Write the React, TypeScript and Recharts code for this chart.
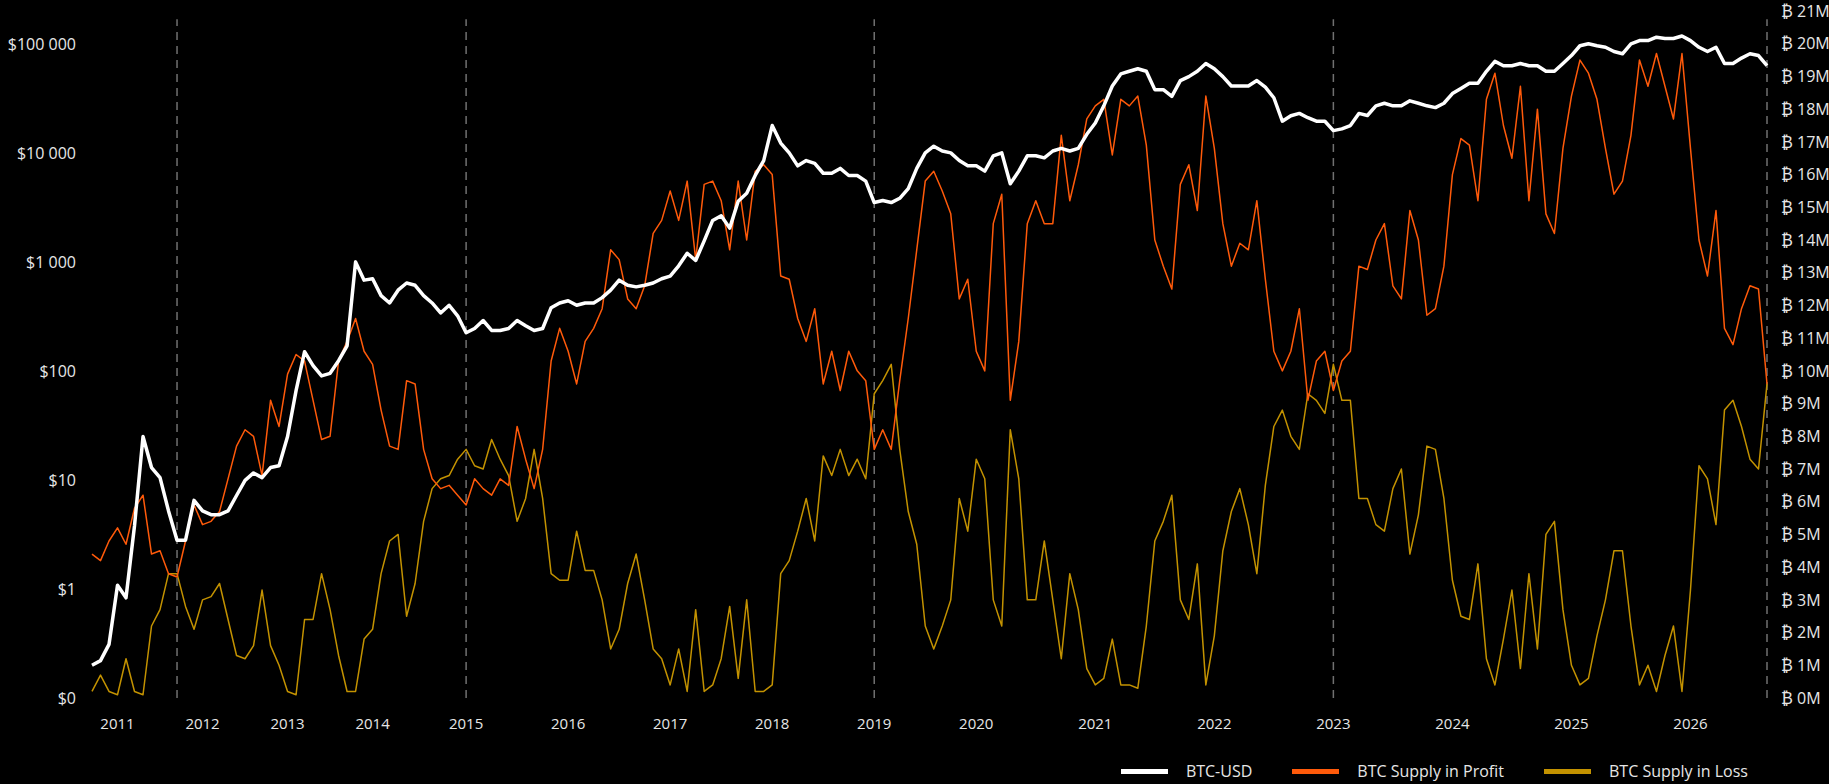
import { LineChart, Line, XAxis, YAxis, ReferenceLine } from 'recharts';

// samples per calendar year (the source axis is denser in later cycles)
const years = [2010, 2011, 2012, 2013, 2014, 2015, 2016, 2017, 2018, 2019, 2020, 2021, 2022, 2023, 2024, 2025, 2026];
const samplesPerYear = [3, 10, 10, 10, 11, 12, 12, 12, 12, 12, 14, 14, 14, 14, 14, 14, 10];

// BTC-USD price, $
const btcUsd = [
  0.2, 0.22, 0.31,
  1.08, 0.83, 3.8, 25, 13, 10.5, 5.2, 2.8, 2.8, 6.5,
  5.2, 4.8, 4.8, 5.2, 7.2, 9.9, 11.6, 10.5, 13, 13.5,
  25, 66, 150, 112, 90, 95, 124, 170, 1000, 680,
  700, 490, 420, 550, 640, 610, 490, 420, 340, 400, 320,
  224, 245, 290, 235, 235, 245, 290, 260, 235, 245, 380, 420,
  440, 400, 420, 420, 470, 550, 680, 610, 590, 610, 640, 700,
  740, 920, 1200, 1030, 1560, 2400, 2650, 2040, 3600, 4260, 6200, 8500,
  17800, 12300, 10000, 7600, 8500, 8000, 6500, 6500, 7200, 6200, 6200, 5500,
  3500, 3650, 3500, 3830, 4700, 7200, 10000, 11500, 10400, 10000, 8500, 7600,
  7600, 6800, 9400, 10000, 5200, 6800, 9400, 9400, 9000, 10400, 11000, 10400, 11000, 14800,
  18800, 27000, 41000, 53000, 56000, 59000, 56000, 38000, 38000, 33000, 46000, 50000, 56000, 66000,
  59000, 50000, 41000, 41000, 41000, 46000, 40000, 32000, 19500, 21900, 23000, 21000, 19500, 19500,
  16000, 16600, 17800, 23000, 22000, 27000, 28500, 27000, 27000, 30000, 28500, 27000, 26000, 28500,
  35000, 39000, 43500, 43500, 56000, 69000, 63000, 63000, 66000, 63000, 63000, 56000, 56000, 66000,
  78000, 96000, 100000, 96000, 93000, 85000, 81000, 100000, 107000, 107000, 115000, 112000, 112000, 118000,
  107000, 93000, 85000, 93000, 66000, 66000, 74000, 81000, 78000, 63000,
];

// BTC supply in profit, million BTC
const supplyInProfit = [
  4.4, 4.2, 4.8,
  5.2, 4.7, 5.8, 6.2, 4.4, 4.5, 3.8, 3.7, 4.8, 5.9,
  5.3, 5.4, 5.7, 6.7, 7.7, 8.2, 8.0, 6.8, 9.1, 8.3,
  9.9, 10.5, 10.3, 9.1, 7.9, 8.0, 10.3, 10.9, 11.6, 10.6,
  10.2, 8.8, 7.7, 7.6, 9.7, 9.6, 7.6, 6.7, 6.4, 6.5, 6.2,
  5.9, 6.7, 6.4, 6.2, 6.7, 6.5, 8.3, 7.3, 6.4, 7.6, 10.3, 11.3,
  10.6, 9.6, 10.9, 11.3, 11.9, 13.7, 13.4, 12.2, 11.9, 12.6, 14.2, 14.6,
  15.5, 14.6, 15.8, 13.4, 15.7, 15.8, 15.2, 13.7, 15.8, 14.0, 16.1, 16.3,
  16.0, 12.9, 12.8, 11.6, 10.9, 11.9, 9.6, 10.6, 9.4, 10.6, 10.0, 9.7,
  7.6, 8.2, 7.6, 9.7, 11.6, 13.7, 15.8, 16.1, 15.5, 14.8, 12.2, 12.8,
  10.6, 10.0, 14.5, 15.4, 9.1, 10.9, 14.5, 15.2, 14.5, 14.5, 17.2, 15.2, 16.3, 17.7,
  18.1, 18.3, 16.6, 18.3, 18.1, 18.4, 16.9, 14.0, 13.2, 12.5, 15.7, 16.3, 14.9, 18.4,
  16.8, 14.5, 13.2, 13.9, 13.7, 15.2, 12.8, 10.6, 10.0, 10.6, 11.9, 9.1, 10.3, 10.6,
  9.4, 10.3, 10.6, 13.2, 13.1, 14.0, 14.5, 12.6, 12.2, 14.9, 14.0, 11.7, 11.9, 13.2,
  16.0, 17.1, 16.9, 15.2, 18.3, 19.1, 17.5, 16.5, 18.7, 15.2, 18.0, 14.8, 14.2, 16.8,
  18.4, 19.5, 19.1, 18.3, 16.8, 15.4, 15.8, 17.2, 19.5, 18.7, 19.7, 18.7, 17.7, 19.7,
  16.8, 14.0, 12.9, 14.9, 11.3, 10.8, 11.9, 12.6, 12.5, 9.6,
];

// BTC supply in loss, million BTC
const supplyInLoss = [
  0.2, 0.7, 0.2,
  0.1, 1.2, 0.2, 0.1, 2.2, 2.7, 3.8, 3.8, 2.8, 2.1,
  3.0, 3.1, 3.5, 2.4, 1.3, 1.2, 1.6, 3.3, 1.6, 1.0,
  0.2, 0.1, 2.4, 2.4, 3.8, 2.7, 1.3, 0.2, 0.2, 1.8,
  2.1, 3.8, 4.8, 5.0, 2.5, 3.5, 5.4, 6.4, 6.7, 6.8, 7.3,
  7.6, 7.1, 7.0, 7.9, 7.3, 6.8, 5.4, 6.1, 7.6, 6.1, 3.8, 3.6,
  3.6, 5.1, 3.9, 3.9, 3.0, 1.5, 2.1, 3.5, 4.4, 3.0, 1.5, 1.2,
  0.4, 1.5, 0.2, 2.7, 0.2, 0.4, 1.2, 2.8, 0.6, 3.0, 0.2, 0.2,
  0.4, 3.8, 4.2, 5.1, 6.1, 4.8, 7.4, 6.8, 7.6, 6.8, 7.3, 6.7,
  9.3, 9.7, 10.2, 7.6, 5.7, 4.7, 2.2, 1.5, 2.2, 3.0, 6.1, 5.1,
  7.3, 6.7, 3.0, 2.2, 8.2, 6.7, 3.0, 3.0, 4.8, 3.0, 1.2, 3.8, 2.7, 0.9,
  0.4, 0.6, 1.8, 0.4, 0.4, 0.3, 2.2, 4.8, 5.4, 6.2, 3.0, 2.4, 4.1, 0.4,
  1.9, 4.5, 5.7, 6.4, 5.3, 3.8, 6.5, 8.3, 8.8, 8.0, 7.6, 9.3, 9.1, 8.7,
  10.2, 9.1, 9.1, 6.1, 6.1, 5.3, 5.1, 6.4, 7.0, 4.4, 5.6, 7.7, 7.6, 6.1,
  3.6, 2.5, 2.4, 4.1, 1.2, 0.4, 1.8, 3.3, 0.9, 3.8, 1.5, 5.0, 5.4, 2.7,
  1.0, 0.4, 0.6, 1.9, 3.0, 4.5, 4.5, 2.2, 0.4, 1.0, 0.2, 1.3, 2.2, 0.2,
  3.3, 7.1, 6.7, 5.3, 8.8, 9.1, 8.3, 7.3, 7.0, 9.6,
];

// cycle lows marked with dashed lines
const cycleMarks = ['2011-7', '2015-0', '2019-0', '2023-0', '2026-9'];
const usdTicks = [0.1, 1, 10, 100, 1000, 10000, 100000];
const supplyTicks = [0, 1, 2, 3, 4, 5, 6, 7, 8, 9, 10, 11, 12, 13, 14, 15, 16, 17, 18, 19, 20, 21];

const series = [
  { key: 'loss', name: 'BTC Supply in Loss', color: '#c39200', width: 1.5, axis: 'supply' },
  { key: 'profit', name: 'BTC Supply in Profit', color: '#ff5a0a', width: 1.5, axis: 'supply' },
  { key: 'price', name: 'BTC-USD', color: '#ffffff', width: 3.5, axis: 'usd' },
];
const legendOrder = ['price', 'profit', 'loss'];

const categories: string[] = [];
years.forEach((y, yi) => {
  for (let k = 0; k < samplesPerYear[yi]; k++) categories.push(`${y}-${k}`);
});

const data = categories.map((c, i) => ({
  date: c,
  price: btcUsd[i],
  profit: supplyInProfit[i],
  loss: supplyInLoss[i],
}));

const FONT = '"Open Sans", Lato, sans-serif';
const yTickStyle = { fill: '#e6e6e6', fontSize: 16, fontFamily: FONT };
const xTickStyle = { fill: '#e6e6e6', fontSize: 15, fontFamily: FONT };

const formatYear = (c: string) => {
  const [y, k] = c.split('-');
  return k === '0' && y !== '2010' ? y : '';
};

const formatUsd = (v: number) => (v < 1 ? '$0' : '$' + v.toLocaleString('en-US').replace(/,/g, ' '));

export default function App() {
  return (
    <div style={{ position: 'absolute', left: 0, top: 0, width: 1829, height: 784, background: '#000', fontFamily: FONT }}>
      <LineChart width={1829} height={784} data={data} margin={{ top: 11, right: 0, bottom: 46, left: 0 }}>
        <XAxis
          dataKey="date"
          interval={0}
          tickFormatter={formatYear}
          tick={xTickStyle}
          tickLine={false}
          axisLine={false}
          tickSize={6}
          tickMargin={14}
          height={40}
        />
        <YAxis
          yAxisId="usd"
          orientation="left"
          scale="log"
          domain={[0.1, 200000]}
          ticks={usdTicks}
          allowDataOverflow
          tickFormatter={formatUsd}
          tick={yTickStyle}
          tickLine={false}
          axisLine={false}
          tickSize={6}
          tickMargin={10}
          width={92}
        />
        <YAxis
          yAxisId="supply"
          orientation="right"
          domain={[0, 21]}
          ticks={supplyTicks}
          tickFormatter={(v: number) => `₿ ${v}M`}
          tick={{ ...yTickStyle, textAnchor: 'start' }}
          tickLine={false}
          axisLine={false}
          tickSize={6}
          tickMargin={8}
          width={62}
        />
        {cycleMarks.map((m) => (
          <ReferenceLine
            key={m}
            yAxisId="supply"
            segment={[{ x: m, y: 0 }, { x: m, y: 20.75 }]}
            stroke="#707070"
            strokeWidth={1.5}
            strokeDasharray="8 6"
          />
        ))}
        {series.map((s) => (
          <Line
            key={s.key}
            yAxisId={s.axis}
            dataKey={s.key}
            name={s.name}
            type="linear"
            stroke={s.color}
            strokeWidth={s.width}
            strokeLinejoin="round"
            dot={false}
            activeDot={false}
            isAnimationActive={false}
          />
        ))}
      </LineChart>
      <div
        style={{
          position: 'absolute',
          top: 760,
          right: 81,
          display: 'flex',
          alignItems: 'center',
          gap: 40,
          color: '#e6e6e6',
          fontSize: 16,
          lineHeight: '22px',
        }}
      >
        {legendOrder.map((k) => {
          const s = series.find((x) => x.key === k)!;
          return (
            <div key={k} style={{ display: 'flex', alignItems: 'center' }}>
              <div style={{ width: 47, height: 5, background: s.color, marginRight: 18 }} />
              <span>{s.name}</span>
            </div>
          );
        })}
      </div>
    </div>
  );
}
